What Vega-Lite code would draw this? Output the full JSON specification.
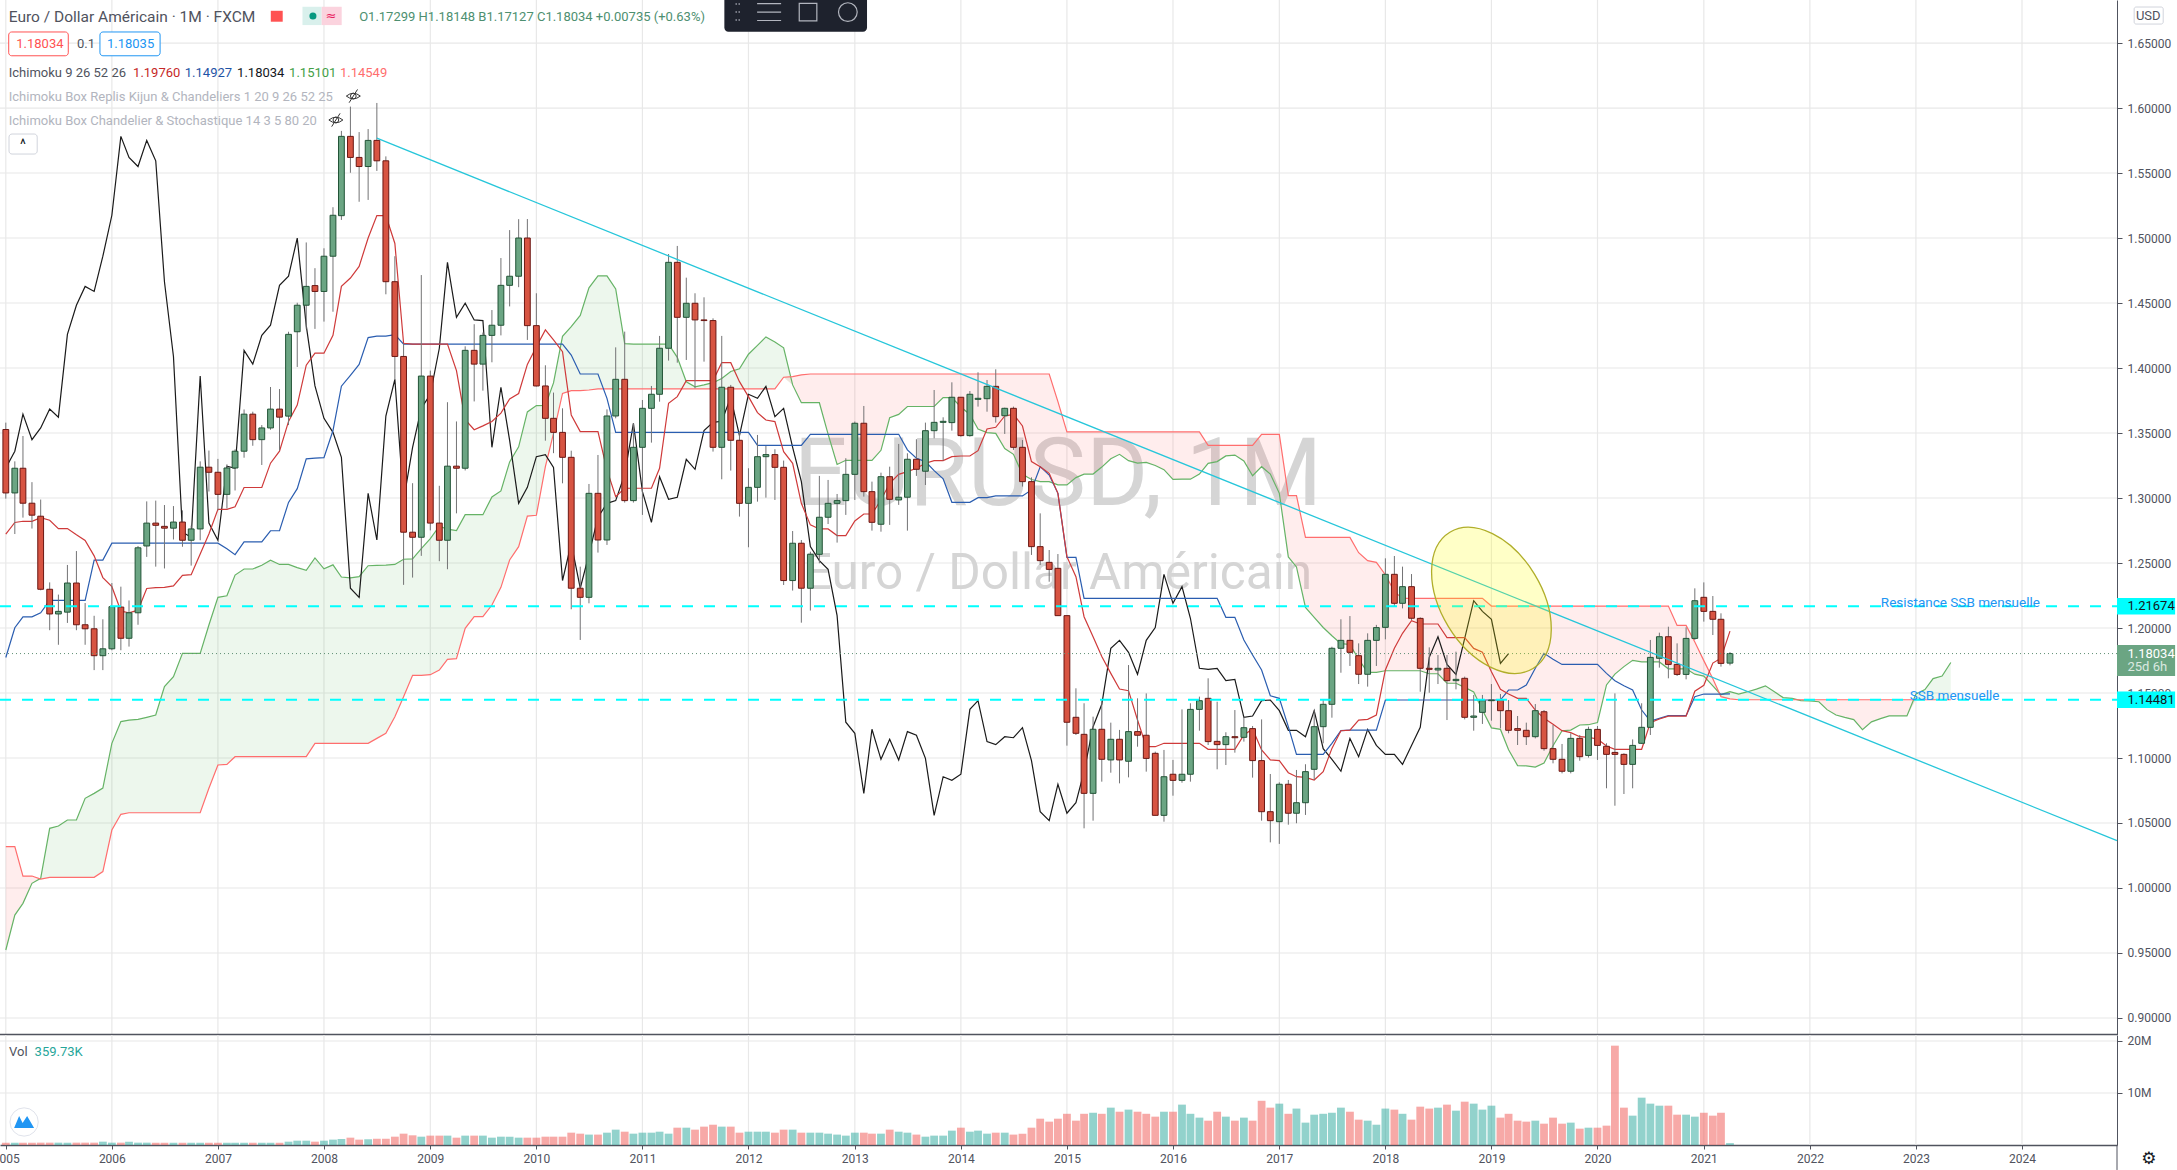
{"$schema":"https://vega.github.io/schema/vega-lite/v6.json","width":2177,"height":1170,"autosize":{"type":"none"},"padding":0,"background":"#ffffff","config":{"view":{"stroke":null},"font":"Roboto","text":{"font":"Roboto"},"axisY":{"grid":false},"axisX":{"grid":false}},
"datasets":{"rows":[
{"t":"2005-01-01","o":1.3527,"h":1.3580,"l":1.2995,"c":1.3039,"v":450000,"ten":1.2723,"kij":1.1773,"chi":1.3231,"ssa":0.9523,"ssb":1.0318,"lo":0.9523},
{"t":"2005-02-01","o":1.3039,"h":1.3282,"l":1.2723,"c":1.3229,"v":450000,"ten":1.2812,"kij":1.2002,"chi":1.3360,"ssa":0.9792,"ssb":1.0318,"lo":0.9792},
{"t":"2005-03-01","o":1.3229,"h":1.3477,"l":1.2849,"c":1.2960,"v":450000,"ten":1.2821,"kij":1.2086,"chi":1.3645,"ssa":0.9882,"ssb":1.0092,"lo":0.9882},
{"t":"2005-04-01","o":1.2960,"h":1.3122,"l":1.2765,"c":1.2868,"v":450000,"ten":1.2821,"kij":1.2086,"chi":1.3449,"ssa":1.0036,"ssb":1.0092,"lo":1.0036},
{"t":"2005-05-01","o":1.2860,"h":1.2988,"l":1.2290,"c":1.2298,"v":450000,"ten":1.2849,"kij":1.2117,"chi":1.3539,"ssa":1.0074,"ssb":1.0069,"lo":1.0069},
{"t":"2005-06-01","o":1.2298,"h":1.2351,"l":1.1983,"c":1.2108,"v":450000,"ten":1.2829,"kij":1.2212,"chi":1.3684,"ssa":1.0459,"ssb":1.0082,"lo":1.0082},
{"t":"2005-07-01","o":1.2108,"h":1.2257,"l":1.1871,"c":1.2128,"v":450000,"ten":1.2765,"kij":1.2212,"chi":1.3622,"ssa":1.0477,"ssb":1.0082,"lo":1.0082},
{"t":"2005-08-01","o":1.2122,"h":1.2485,"l":1.2039,"c":1.2346,"v":450000,"ten":1.2765,"kij":1.2212,"chi":1.4259,"ssa":1.0523,"ssb":1.0082,"lo":1.0082},
{"t":"2005-09-01","o":1.2346,"h":1.2592,"l":1.1983,"c":1.2025,"v":450000,"ten":1.2717,"kij":1.2212,"chi":1.4483,"ssa":1.0523,"ssb":1.0082,"lo":1.0082},
{"t":"2005-10-01","o":1.2025,"h":1.2192,"l":1.1871,"c":1.1994,"v":450000,"ten":1.2673,"kij":1.2212,"chi":1.4628,"ssa":1.0690,"ssb":1.0082,"lo":1.0082},
{"t":"2005-11-01","o":1.1994,"h":1.2094,"l":1.1676,"c":1.1787,"v":450000,"ten":1.2555,"kij":1.2522,"chi":1.4589,"ssa":1.0728,"ssb":1.0082,"lo":1.0082},
{"t":"2005-12-01","o":1.1787,"h":1.2067,"l":1.1676,"c":1.1840,"v":640000,"ten":1.2388,"kij":1.2522,"chi":1.4860,"ssa":1.0769,"ssb":1.0126,"lo":1.0126},
{"t":"2006-01-01","o":1.1840,"h":1.2346,"l":1.1829,"c":1.2164,"v":450000,"ten":1.2318,"kij":1.2653,"chi":1.5175,"ssa":1.1113,"ssb":1.0446,"lo":1.0446},
{"t":"2006-02-01","o":1.2161,"h":1.2318,"l":1.1829,"c":1.1921,"v":450000,"ten":1.2131,"kij":1.2653,"chi":1.5782,"ssa":1.1280,"ssb":1.0567,"lo":1.0567},
{"t":"2006-03-01","o":1.1921,"h":1.2212,"l":1.1857,"c":1.2117,"v":640000,"ten":1.2117,"kij":1.2653,"chi":1.5620,"ssa":1.1292,"ssb":1.0579,"lo":1.0579},
{"t":"2006-04-01","o":1.2117,"h":1.2631,"l":1.2025,"c":1.2617,"v":450000,"ten":1.2137,"kij":1.2653,"chi":1.5550,"ssa":1.1297,"ssb":1.0579,"lo":1.0579},
{"t":"2006-05-01","o":1.2631,"h":1.2974,"l":1.2547,"c":1.2807,"v":450000,"ten":1.2304,"kij":1.2653,"chi":1.5751,"ssa":1.1313,"ssb":1.0579,"lo":1.0579},
{"t":"2006-06-01","o":1.2807,"h":1.2980,"l":1.2472,"c":1.2790,"v":430000,"ten":1.2310,"kij":1.2653,"chi":1.5594,"ssa":1.1331,"ssb":1.0579,"lo":1.0579},
{"t":"2006-07-01","o":1.2782,"h":1.2946,"l":1.2458,"c":1.2768,"v":430000,"ten":1.2313,"kij":1.2653,"chi":1.4664,"ssa":1.1549,"ssb":1.0579,"lo":1.0579},
{"t":"2006-08-01","o":1.2768,"h":1.2938,"l":1.2681,"c":1.2815,"v":430000,"ten":1.2324,"kij":1.2653,"chi":1.4089,"ssa":1.1626,"ssb":1.0579,"lo":1.0579},
{"t":"2006-09-01","o":1.2815,"h":1.2905,"l":1.2625,"c":1.2675,"v":430000,"ten":1.2405,"kij":1.2653,"chi":1.2737,"ssa":1.1805,"ssb":1.0579,"lo":1.0579},
{"t":"2006-10-01","o":1.2675,"h":1.2787,"l":1.2480,"c":1.2762,"v":430000,"ten":1.2410,"kij":1.2653,"chi":1.2698,"ssa":1.1805,"ssb":1.0579,"lo":1.0579},
{"t":"2006-11-01","o":1.2762,"h":1.3282,"l":1.2675,"c":1.3237,"v":430000,"ten":1.2569,"kij":1.2653,"chi":1.3938,"ssa":1.1805,"ssb":1.0579,"lo":1.0579},
{"t":"2006-12-01","o":1.3237,"h":1.3365,"l":1.3050,"c":1.3198,"v":430000,"ten":1.2723,"kij":1.2653,"chi":1.2807,"ssa":1.2023,"ssb":1.0767,"lo":1.0767},
{"t":"2007-01-01","o":1.3198,"h":1.3301,"l":1.2905,"c":1.3028,"v":430000,"ten":1.2913,"kij":1.2653,"chi":1.2675,"ssa":1.2236,"ssb":1.0946,"lo":1.0946},
{"t":"2007-02-01","o":1.3028,"h":1.3259,"l":1.2919,"c":1.3231,"v":430000,"ten":1.2913,"kij":1.2609,"chi":1.3245,"ssa":1.2248,"ssb":1.0951,"lo":1.0951},
{"t":"2007-03-01","o":1.3231,"h":1.3374,"l":1.3058,"c":1.3360,"v":430000,"ten":1.2933,"kij":1.2564,"chi":1.3229,"ssa":1.2407,"ssb":1.1010,"lo":1.1010},
{"t":"2007-04-01","o":1.3360,"h":1.3681,"l":1.3310,"c":1.3645,"v":430000,"ten":1.3081,"kij":1.2662,"chi":1.4136,"ssa":1.2454,"ssb":1.1010,"lo":1.1010},
{"t":"2007-05-01","o":1.3645,"h":1.3664,"l":1.3402,"c":1.3449,"v":430000,"ten":1.3081,"kij":1.2662,"chi":1.4030,"ssa":1.2454,"ssb":1.1010,"lo":1.1010},
{"t":"2007-06-01","o":1.3449,"h":1.3561,"l":1.3254,"c":1.3539,"v":430000,"ten":1.3081,"kij":1.2662,"chi":1.4251,"ssa":1.2483,"ssb":1.1010,"lo":1.1010},
{"t":"2007-07-01","o":1.3539,"h":1.3854,"l":1.3525,"c":1.3684,"v":430000,"ten":1.3268,"kij":1.2748,"chi":1.4329,"ssa":1.2521,"ssb":1.1010,"lo":1.1010},
{"t":"2007-08-01","o":1.3684,"h":1.3838,"l":1.3365,"c":1.3622,"v":430000,"ten":1.3360,"kij":1.2748,"chi":1.4636,"ssa":1.2489,"ssb":1.1010,"lo":1.1010},
{"t":"2007-09-01","o":1.3630,"h":1.4279,"l":1.3561,"c":1.4259,"v":640000,"ten":1.3589,"kij":1.2966,"chi":1.4706,"ssa":1.2489,"ssb":1.1010,"lo":1.1010},
{"t":"2007-10-01","o":1.4279,"h":1.4502,"l":1.4008,"c":1.4483,"v":830000,"ten":1.3715,"kij":1.3072,"chi":1.5000,"ssa":1.2465,"ssb":1.1010,"lo":1.1010},
{"t":"2007-11-01","o":1.4483,"h":1.4966,"l":1.4301,"c":1.4628,"v":830000,"ten":1.4022,"kij":1.3301,"chi":1.4326,"ssa":1.2443,"ssb":1.1010,"lo":1.1010},
{"t":"2007-12-01","o":1.4634,"h":1.4768,"l":1.4301,"c":1.4589,"v":640000,"ten":1.4114,"kij":1.3307,"chi":1.3862,"ssa":1.2539,"ssb":1.1113,"lo":1.1113},
{"t":"2008-01-01","o":1.4589,"h":1.4921,"l":1.4357,"c":1.4860,"v":830000,"ten":1.4114,"kij":1.3310,"chi":1.3613,"ssa":1.2455,"ssb":1.1113,"lo":1.1113},
{"t":"2008-02-01","o":1.4860,"h":1.5237,"l":1.4433,"c":1.5175,"v":1030000,"ten":1.4251,"kij":1.3519,"chi":1.3505,"ssa":1.2486,"ssb":1.1113,"lo":1.1113},
{"t":"2008-03-01","o":1.5172,"h":1.5824,"l":1.5139,"c":1.5782,"v":1150000,"ten":1.4628,"kij":1.3860,"chi":1.3313,"ssa":1.2392,"ssb":1.1113,"lo":1.1113},
{"t":"2008-04-01","o":1.5782,"h":1.6011,"l":1.5502,"c":1.5620,"v":1410000,"ten":1.4692,"kij":1.3944,"chi":1.2306,"ssa":1.2385,"ssb":1.1113,"lo":1.1113},
{"t":"2008-05-01","o":1.5620,"h":1.5815,"l":1.5279,"c":1.5550,"v":1030000,"ten":1.4782,"kij":1.4028,"chi":1.2236,"ssa":1.2395,"ssb":1.1113,"lo":1.1113},
{"t":"2008-06-01","o":1.5550,"h":1.5838,"l":1.5293,"c":1.5751,"v":1100000,"ten":1.5000,"kij":1.4234,"chi":1.3036,"ssa":1.2479,"ssb":1.1113,"lo":1.1113},
{"t":"2008-07-01","o":1.5751,"h":1.6039,"l":1.5516,"c":1.5594,"v":1200000,"ten":1.5173,"kij":1.4245,"chi":1.2677,"ssa":1.2482,"ssb":1.1151,"lo":1.1151},
{"t":"2008-08-01","o":1.5594,"h":1.5628,"l":1.4567,"c":1.4664,"v":1200000,"ten":1.5173,"kij":1.4245,"chi":1.3631,"ssa":1.2483,"ssb":1.1190,"lo":1.1190},
{"t":"2008-09-01","o":1.4664,"h":1.4860,"l":1.3910,"c":1.4089,"v":1600000,"ten":1.4958,"kij":1.4257,"chi":1.3913,"ssa":1.2489,"ssb":1.1318,"lo":1.1318},
{"t":"2008-10-01","o":1.4089,"h":1.4190,"l":1.2332,"c":1.2737,"v":2180000,"ten":1.4190,"kij":1.4184,"chi":1.2980,"ssa":1.2529,"ssb":1.1472,"lo":1.1472},
{"t":"2008-11-01","o":1.2737,"h":1.3114,"l":1.2388,"c":1.2698,"v":1860000,"ten":1.4184,"kij":1.4184,"chi":1.3390,"ssa":1.2532,"ssb":1.1636,"lo":1.1636},
{"t":"2008-12-01","o":1.2698,"h":1.4715,"l":1.2555,"c":1.3938,"v":1600000,"ten":1.4184,"kij":1.4184,"chi":1.3690,"ssa":1.2611,"ssb":1.1636,"lo":1.1636},
{"t":"2009-01-01","o":1.3938,"h":1.3980,"l":1.2751,"c":1.2807,"v":1800000,"ten":1.4184,"kij":1.4184,"chi":1.3798,"ssa":1.2688,"ssb":1.1641,"lo":1.1641},
{"t":"2009-02-01","o":1.2807,"h":1.3094,"l":1.2514,"c":1.2675,"v":1800000,"ten":1.4184,"kij":1.4184,"chi":1.4152,"ssa":1.2783,"ssb":1.1677,"lo":1.1677},
{"t":"2009-03-01","o":1.2675,"h":1.3737,"l":1.2452,"c":1.3245,"v":1800000,"ten":1.4184,"kij":1.4184,"chi":1.4813,"ssa":1.2761,"ssb":1.1759,"lo":1.1759},
{"t":"2009-04-01","o":1.3245,"h":1.3589,"l":1.2882,"c":1.3229,"v":1410000,"ten":1.3980,"kij":1.4184,"chi":1.4390,"ssa":1.2749,"ssb":1.1764,"lo":1.1764},
{"t":"2009-05-01","o":1.3229,"h":1.4167,"l":1.3212,"c":1.4136,"v":1800000,"ten":1.3603,"kij":1.4184,"chi":1.4498,"ssa":1.2872,"ssb":1.1997,"lo":1.1997},
{"t":"2009-06-01","o":1.4136,"h":1.4337,"l":1.3743,"c":1.4030,"v":1800000,"ten":1.3525,"kij":1.4184,"chi":1.4370,"ssa":1.2872,"ssb":1.2087,"lo":1.2087},
{"t":"2009-07-01","o":1.4030,"h":1.4273,"l":1.3826,"c":1.4251,"v":1800000,"ten":1.3555,"kij":1.4184,"chi":1.4365,"ssa":1.2872,"ssb":1.2087,"lo":1.2087},
{"t":"2009-08-01","o":1.4251,"h":1.4446,"l":1.4044,"c":1.4329,"v":1410000,"ten":1.3589,"kij":1.4184,"chi":1.3390,"ssa":1.3008,"ssb":1.2177,"lo":1.2177},
{"t":"2009-09-01","o":1.4329,"h":1.4846,"l":1.4251,"c":1.4636,"v":1600000,"ten":1.3653,"kij":1.4184,"chi":1.3852,"ssa":1.3054,"ssb":1.2313,"lo":1.2313},
{"t":"2009-10-01","o":1.4636,"h":1.5061,"l":1.4474,"c":1.4706,"v":1600000,"ten":1.3762,"kij":1.4184,"chi":1.3444,"ssa":1.3278,"ssb":1.2523,"lo":1.2523},
{"t":"2009-11-01","o":1.4706,"h":1.5145,"l":1.4622,"c":1.5000,"v":1410000,"ten":1.3804,"kij":1.4184,"chi":1.2959,"ssa":1.3394,"ssb":1.2626,"lo":1.2626},
{"t":"2009-12-01","o":1.5000,"h":1.5146,"l":1.4216,"c":1.4326,"v":1410000,"ten":1.4028,"kij":1.4184,"chi":1.3082,"ssa":1.3662,"ssb":1.2861,"lo":1.2861},
{"t":"2010-01-01","o":1.4326,"h":1.4575,"l":1.3858,"c":1.3862,"v":1410000,"ten":1.4164,"kij":1.4184,"chi":1.3318,"ssa":1.3711,"ssb":1.2867,"lo":1.2867},
{"t":"2010-02-01","o":1.3862,"h":1.4021,"l":1.3441,"c":1.3613,"v":1600000,"ten":1.4293,"kij":1.4184,"chi":1.3334,"ssa":1.3712,"ssb":1.3241,"lo":1.3241},
{"t":"2010-03-01","o":1.3613,"h":1.3811,"l":1.3345,"c":1.3505,"v":1600000,"ten":1.4216,"kij":1.4184,"chi":1.3236,"ssa":1.3885,"ssb":1.3497,"lo":1.3497},
{"t":"2010-04-01","o":1.3505,"h":1.3690,"l":1.3113,"c":1.3313,"v":1600000,"ten":1.4126,"kij":1.4184,"chi":1.2365,"ssa":1.4244,"ssb":1.3805,"lo":1.3805},
{"t":"2010-05-01","o":1.3313,"h":1.3364,"l":1.2144,"c":1.2306,"v":2370000,"ten":1.3639,"kij":1.4100,"chi":1.2652,"ssa":1.4318,"ssb":1.3826,"lo":1.3826},
{"t":"2010-06-01","o":1.2306,"h":1.2472,"l":1.1908,"c":1.2236,"v":2180000,"ten":1.3511,"kij":1.3954,"chi":1.2306,"ssa":1.4405,"ssb":1.3826,"lo":1.3826},
{"t":"2010-07-01","o":1.2236,"h":1.3108,"l":1.2190,"c":1.3036,"v":2000000,"ten":1.3511,"kij":1.3954,"chi":1.2567,"ssa":1.4617,"ssb":1.3831,"lo":1.3831},
{"t":"2010-08-01","o":1.3036,"h":1.3331,"l":1.2580,"c":1.2677,"v":2000000,"ten":1.3511,"kij":1.3954,"chi":1.2852,"ssa":1.4709,"ssb":1.3840,"lo":1.3840},
{"t":"2010-09-01","o":1.2677,"h":1.3682,"l":1.2639,"c":1.3631,"v":2370000,"ten":1.3216,"kij":1.3767,"chi":1.2959,"ssa":1.4709,"ssb":1.3840,"lo":1.3840},
{"t":"2010-10-01","o":1.3631,"h":1.4159,"l":1.3613,"c":1.3913,"v":2950000,"ten":1.3011,"kij":1.3505,"chi":1.2980,"ssa":1.4608,"ssb":1.3840,"lo":1.3840},
{"t":"2010-11-01","o":1.3913,"h":1.4280,"l":1.2965,"c":1.2980,"v":2560000,"ten":1.3075,"kij":1.3505,"chi":1.3182,"ssa":1.4187,"ssb":1.3840,"lo":1.3840},
{"t":"2010-12-01","o":1.2980,"h":1.3575,"l":1.2965,"c":1.3390,"v":2180000,"ten":1.3075,"kij":1.3505,"chi":1.3575,"ssa":1.4184,"ssb":1.3840,"lo":1.3840},
{"t":"2011-01-01","o":1.3390,"h":1.3754,"l":1.2870,"c":1.3690,"v":2370000,"ten":1.3075,"kij":1.3505,"chi":1.3049,"ssa":1.4184,"ssb":1.3840,"lo":1.3840},
{"t":"2011-02-01","o":1.3690,"h":1.3862,"l":1.3426,"c":1.3798,"v":2370000,"ten":1.3075,"kij":1.3505,"chi":1.2813,"ssa":1.4184,"ssb":1.3840,"lo":1.3840},
{"t":"2011-03-01","o":1.3798,"h":1.4247,"l":1.3741,"c":1.4152,"v":2560000,"ten":1.3229,"kij":1.3505,"chi":1.3164,"ssa":1.4184,"ssb":1.3840,"lo":1.3840},
{"t":"2011-04-01","o":1.4152,"h":1.4877,"l":1.4057,"c":1.4813,"v":2180000,"ten":1.3729,"kij":1.3505,"chi":1.2990,"ssa":1.4184,"ssb":1.3840,"lo":1.3840},
{"t":"2011-05-01","o":1.4813,"h":1.4939,"l":1.4041,"c":1.4390,"v":3330000,"ten":1.3780,"kij":1.3505,"chi":1.3006,"ssa":1.4082,"ssb":1.3840,"lo":1.3840},
{"t":"2011-06-01","o":1.4390,"h":1.4695,"l":1.4062,"c":1.4498,"v":3330000,"ten":1.3903,"kij":1.3505,"chi":1.3298,"ssa":1.3894,"ssb":1.3840,"lo":1.3840},
{"t":"2011-07-01","o":1.4498,"h":1.4575,"l":1.3844,"c":1.4370,"v":2950000,"ten":1.3903,"kij":1.3505,"chi":1.3221,"ssa":1.3855,"ssb":1.3840,"lo":1.3840},
{"t":"2011-08-01","o":1.4370,"h":1.4544,"l":1.4049,"c":1.4365,"v":3530000,"ten":1.3903,"kij":1.3505,"chi":1.3518,"ssa":1.3870,"ssb":1.3840,"lo":1.3840},
{"t":"2011-09-01","o":1.4365,"h":1.4382,"l":1.3357,"c":1.3390,"v":3900000,"ten":1.3903,"kij":1.3505,"chi":1.3582,"ssa":1.3887,"ssb":1.3840,"lo":1.3840},
{"t":"2011-10-01","o":1.3390,"h":1.4247,"l":1.3144,"c":1.3852,"v":3530000,"ten":1.4041,"kij":1.3505,"chi":1.3590,"ssa":1.3919,"ssb":1.3840,"lo":1.3840},
{"t":"2011-11-01","o":1.3852,"h":1.3870,"l":1.3211,"c":1.3444,"v":3530000,"ten":1.4041,"kij":1.3505,"chi":1.3775,"ssa":1.3973,"ssb":1.3840,"lo":1.3840},
{"t":"2011-12-01","o":1.3444,"h":1.3511,"l":1.2857,"c":1.2959,"v":2370000,"ten":1.3895,"kij":1.3505,"chi":1.3480,"ssa":1.3994,"ssb":1.3840,"lo":1.3840},
{"t":"2012-01-01","o":1.2959,"h":1.3229,"l":1.2621,"c":1.3082,"v":2560000,"ten":1.3780,"kij":1.3505,"chi":1.3798,"ssa":1.4106,"ssb":1.3840,"lo":1.3840},
{"t":"2012-02-01","o":1.3082,"h":1.3485,"l":1.2972,"c":1.3318,"v":2560000,"ten":1.3657,"kij":1.3405,"chi":1.3767,"ssa":1.4174,"ssb":1.3840,"lo":1.3840},
{"t":"2012-03-01","o":1.3318,"h":1.3400,"l":1.3003,"c":1.3334,"v":2560000,"ten":1.3600,"kij":1.3405,"chi":1.3859,"ssa":1.4239,"ssb":1.3840,"lo":1.3840},
{"t":"2012-04-01","o":1.3334,"h":1.3375,"l":1.2985,"c":1.3236,"v":2370000,"ten":1.3588,"kij":1.3405,"chi":1.3626,"ssa":1.4200,"ssb":1.3840,"lo":1.3840},
{"t":"2012-05-01","o":1.3236,"h":1.3288,"l":1.2331,"c":1.2365,"v":2950000,"ten":1.3357,"kij":1.3405,"chi":1.3690,"ssa":1.4155,"ssb":1.3929,"lo":1.3929},
{"t":"2012-06-01","o":1.2365,"h":1.2746,"l":1.2288,"c":1.2652,"v":2950000,"ten":1.3267,"kij":1.3405,"chi":1.3390,"ssa":1.3870,"ssb":1.3934,"lo":1.3870},
{"t":"2012-07-01","o":1.2652,"h":1.2677,"l":1.2041,"c":1.2306,"v":2370000,"ten":1.2959,"kij":1.3405,"chi":1.3126,"ssa":1.3733,"ssb":1.3947,"lo":1.3733},
{"t":"2012-08-01","o":1.2306,"h":1.2587,"l":1.2134,"c":1.2567,"v":2370000,"ten":1.2793,"kij":1.3490,"chi":1.2626,"ssa":1.3733,"ssb":1.3954,"lo":1.3733},
{"t":"2012-09-01","o":1.2567,"h":1.3170,"l":1.2498,"c":1.2852,"v":2370000,"ten":1.2762,"kij":1.3490,"chi":1.2518,"ssa":1.3733,"ssb":1.3954,"lo":1.3733},
{"t":"2012-10-01","o":1.2852,"h":1.3139,"l":1.2800,"c":1.2959,"v":2180000,"ten":1.2762,"kij":1.3490,"chi":1.2451,"ssa":1.3492,"ssb":1.3954,"lo":1.3492},
{"t":"2012-11-01","o":1.2959,"h":1.3031,"l":1.2657,"c":1.2980,"v":2000000,"ten":1.2711,"kij":1.3490,"chi":1.2095,"ssa":1.3258,"ssb":1.3954,"lo":1.3258},
{"t":"2012-12-01","o":1.2980,"h":1.3306,"l":1.2870,"c":1.3182,"v":1800000,"ten":1.2711,"kij":1.3490,"chi":1.1275,"ssa":1.3290,"ssb":1.3954,"lo":1.3290},
{"t":"2013-01-01","o":1.3182,"h":1.3588,"l":1.2985,"c":1.3575,"v":2370000,"ten":1.2823,"kij":1.3490,"chi":1.1190,"ssa":1.3290,"ssb":1.3954,"lo":1.3290},
{"t":"2013-02-01","o":1.3575,"h":1.3708,"l":1.3011,"c":1.3049,"v":2370000,"ten":1.2877,"kij":1.3490,"chi":1.0728,"ssa":1.3290,"ssb":1.3954,"lo":1.3290},
{"t":"2013-03-01","o":1.3049,"h":1.3126,"l":1.2749,"c":1.2813,"v":2180000,"ten":1.2877,"kij":1.3490,"chi":1.1221,"ssa":1.3290,"ssb":1.3954,"lo":1.3290},
{"t":"2013-04-01","o":1.2798,"h":1.3195,"l":1.2741,"c":1.3164,"v":2180000,"ten":1.2985,"kij":1.3490,"chi":1.0990,"ssa":1.3367,"ssb":1.3954,"lo":1.3367},
{"t":"2013-05-01","o":1.3164,"h":1.3241,"l":1.2793,"c":1.2990,"v":2950000,"ten":1.3113,"kij":1.3490,"chi":1.1144,"ssa":1.3617,"ssb":1.3954,"lo":1.3617},
{"t":"2013-06-01","o":1.2985,"h":1.3416,"l":1.2947,"c":1.3006,"v":2560000,"ten":1.3182,"kij":1.3490,"chi":1.0985,"ssa":1.3643,"ssb":1.3954,"lo":1.3643},
{"t":"2013-07-01","o":1.3006,"h":1.3344,"l":1.2749,"c":1.3298,"v":2370000,"ten":1.3203,"kij":1.3370,"chi":1.1203,"ssa":1.3704,"ssb":1.3954,"lo":1.3704},
{"t":"2013-08-01","o":1.3298,"h":1.3452,"l":1.3170,"c":1.3221,"v":2000000,"ten":1.3229,"kij":1.3306,"chi":1.1175,"ssa":1.3704,"ssb":1.3954,"lo":1.3704},
{"t":"2013-09-01","o":1.3206,"h":1.3580,"l":1.3100,"c":1.3518,"v":1600000,"ten":1.3267,"kij":1.3280,"chi":1.0997,"ssa":1.3704,"ssb":1.3954,"lo":1.3704},
{"t":"2013-10-01","o":1.3518,"h":1.3831,"l":1.3459,"c":1.3582,"v":1800000,"ten":1.3288,"kij":1.3211,"chi":1.0559,"ssa":1.3704,"ssb":1.3954,"lo":1.3704},
{"t":"2013-11-01","o":1.3582,"h":1.3621,"l":1.3288,"c":1.3590,"v":1800000,"ten":1.3288,"kij":1.3147,"chi":1.0856,"ssa":1.3773,"ssb":1.3954,"lo":1.3773},
{"t":"2013-12-01","o":1.3580,"h":1.3890,"l":1.3518,"c":1.3775,"v":2760000,"ten":1.3318,"kij":1.2967,"chi":1.0828,"ssa":1.3773,"ssb":1.3954,"lo":1.3773},
{"t":"2014-01-01","o":1.3775,"h":1.3775,"l":1.3472,"c":1.3480,"v":3330000,"ten":1.3323,"kij":1.2967,"chi":1.0875,"ssa":1.3700,"ssb":1.3954,"lo":1.3700},
{"t":"2014-02-01","o":1.3480,"h":1.3823,"l":1.3472,"c":1.3798,"v":2560000,"ten":1.3323,"kij":1.2967,"chi":1.1374,"ssa":1.3643,"ssb":1.3954,"lo":1.3643},
{"t":"2014-03-01","o":1.3759,"h":1.3967,"l":1.3703,"c":1.3767,"v":2760000,"ten":1.3364,"kij":1.3003,"chi":1.1441,"ssa":1.3531,"ssb":1.3954,"lo":1.3531},
{"t":"2014-04-01","o":1.3764,"h":1.3908,"l":1.3664,"c":1.3859,"v":2180000,"ten":1.3531,"kij":1.3003,"chi":1.1126,"ssa":1.3503,"ssb":1.3954,"lo":1.3503},
{"t":"2014-05-01","o":1.3859,"h":1.3990,"l":1.3580,"c":1.3626,"v":2370000,"ten":1.3544,"kij":1.3016,"chi":1.1103,"ssa":1.3497,"ssb":1.3954,"lo":1.3497},
{"t":"2014-06-01","o":1.3633,"h":1.3695,"l":1.3493,"c":1.3690,"v":2370000,"ten":1.3631,"kij":1.3016,"chi":1.1164,"ssa":1.3381,"ssb":1.3954,"lo":1.3381},
{"t":"2014-07-01","o":1.3690,"h":1.3703,"l":1.3370,"c":1.3390,"v":2000000,"ten":1.3644,"kij":1.3016,"chi":1.1156,"ssa":1.3336,"ssb":1.3954,"lo":1.3336},
{"t":"2014-08-01","o":1.3390,"h":1.3446,"l":1.3088,"c":1.3126,"v":2180000,"ten":1.3554,"kij":1.3016,"chi":1.1233,"ssa":1.3182,"ssb":1.3954,"lo":1.3182},
{"t":"2014-09-01","o":1.3126,"h":1.3159,"l":1.2562,"c":1.2626,"v":3330000,"ten":1.3280,"kij":1.3062,"chi":1.0980,"ssa":1.3142,"ssb":1.3954,"lo":1.3142},
{"t":"2014-10-01","o":1.2626,"h":1.2882,"l":1.2485,"c":1.2518,"v":5060000,"ten":1.3241,"kij":1.3241,"chi":1.0587,"ssa":1.3126,"ssb":1.3954,"lo":1.3126},
{"t":"2014-11-01","o":1.2505,"h":1.2600,"l":1.2356,"c":1.2451,"v":4490000,"ten":1.3190,"kij":1.3177,"chi":1.0518,"ssa":1.3126,"ssb":1.3954,"lo":1.3126},
{"t":"2014-12-01","o":1.2459,"h":1.2569,"l":1.2095,"c":1.2095,"v":5060000,"ten":1.3036,"kij":1.3036,"chi":1.0798,"ssa":1.3101,"ssb":1.3741,"lo":1.3101},
{"t":"2015-01-01","o":1.2095,"h":1.2095,"l":1.1095,"c":1.1275,"v":6000000,"ten":1.2549,"kij":1.2544,"chi":1.0575,"ssa":1.3101,"ssb":1.3508,"lo":1.3101},
{"t":"2015-02-01","o":1.1313,"h":1.1536,"l":1.1177,"c":1.1190,"v":4680000,"ten":1.2395,"kij":1.2544,"chi":1.0656,"ssa":1.3157,"ssb":1.3508,"lo":1.3157},
{"t":"2015-03-01","o":1.1182,"h":1.1421,"l":1.0459,"c":1.0728,"v":6000000,"ten":1.2087,"kij":1.2228,"chi":1.0895,"ssa":1.3184,"ssb":1.3508,"lo":1.3184},
{"t":"2015-04-01","o":1.0728,"h":1.1318,"l":1.0518,"c":1.1221,"v":6200000,"ten":1.1933,"kij":1.2228,"chi":1.1241,"ssa":1.3184,"ssb":1.3508,"lo":1.3184},
{"t":"2015-05-01","o":1.1221,"h":1.1441,"l":1.0818,"c":1.0990,"v":6000000,"ten":1.1780,"kij":1.2228,"chi":1.1413,"ssa":1.3238,"ssb":1.3508,"lo":1.3238},
{"t":"2015-06-01","o":1.0985,"h":1.1272,"l":1.0887,"c":1.1144,"v":7180000,"ten":1.1651,"kij":1.2228,"chi":1.1844,"ssa":1.3302,"ssb":1.3508,"lo":1.3302},
{"t":"2015-07-01","o":1.1144,"h":1.1216,"l":1.0805,"c":1.0985,"v":6400000,"ten":1.1531,"kij":1.2228,"chi":1.1905,"ssa":1.3336,"ssb":1.3508,"lo":1.3336},
{"t":"2015-08-01","o":1.0975,"h":1.1715,"l":1.0851,"c":1.1203,"v":6800000,"ten":1.1518,"kij":1.2228,"chi":1.1813,"ssa":1.3287,"ssb":1.3508,"lo":1.3287},
{"t":"2015-09-01","o":1.1203,"h":1.1459,"l":1.1087,"c":1.1175,"v":6400000,"ten":1.1292,"kij":1.2228,"chi":1.1644,"ssa":1.3268,"ssb":1.3508,"lo":1.3268},
{"t":"2015-10-01","o":1.1175,"h":1.1497,"l":1.0895,"c":1.0997,"v":6000000,"ten":1.1087,"kij":1.2228,"chi":1.1905,"ssa":1.3274,"ssb":1.3508,"lo":1.3274},
{"t":"2015-11-01","o":1.1036,"h":1.1049,"l":1.0559,"c":1.0559,"v":5450000,"ten":1.1087,"kij":1.2228,"chi":1.2003,"ssa":1.3250,"ssb":1.3508,"lo":1.3250},
{"t":"2015-12-01","o":1.0559,"h":1.1062,"l":1.0510,"c":1.0856,"v":6400000,"ten":1.1113,"kij":1.2228,"chi":1.2413,"ssa":1.3218,"ssb":1.3508,"lo":1.3218},
{"t":"2016-01-01","o":1.0875,"h":1.0985,"l":1.0710,"c":1.0828,"v":6400000,"ten":1.1113,"kij":1.2228,"chi":1.2190,"ssa":1.3143,"ssb":1.3508,"lo":1.3143},
{"t":"2016-02-01","o":1.0828,"h":1.1374,"l":1.0810,"c":1.0875,"v":7760000,"ten":1.1113,"kij":1.2228,"chi":1.2318,"ssa":1.3145,"ssb":1.3508,"lo":1.3145},
{"t":"2016-03-01","o":1.0875,"h":1.1421,"l":1.0818,"c":1.1374,"v":6000000,"ten":1.1113,"kij":1.2228,"chi":1.2075,"ssa":1.3145,"ssb":1.3508,"lo":1.3145},
{"t":"2016-04-01","o":1.1374,"h":1.1472,"l":1.1210,"c":1.1441,"v":5260000,"ten":1.1113,"kij":1.2228,"chi":1.1690,"ssa":1.3184,"ssb":1.3508,"lo":1.3184},
{"t":"2016-05-01","o":1.1459,"h":1.1613,"l":1.1100,"c":1.1126,"v":4680000,"ten":1.1067,"kij":1.2228,"chi":1.1682,"ssa":1.3267,"ssb":1.3405,"lo":1.3267},
{"t":"2016-06-01","o":1.1128,"h":1.1433,"l":1.0913,"c":1.1103,"v":6400000,"ten":1.1067,"kij":1.2228,"chi":1.1690,"ssa":1.3280,"ssb":1.3405,"lo":1.3280},
{"t":"2016-07-01","o":1.1103,"h":1.1198,"l":1.0946,"c":1.1164,"v":5450000,"ten":1.1067,"kij":1.2082,"chi":1.1595,"ssa":1.3324,"ssb":1.3405,"lo":1.3324},
{"t":"2016-08-01","o":1.1164,"h":1.1369,"l":1.1041,"c":1.1156,"v":4680000,"ten":1.1067,"kij":1.2082,"chi":1.1605,"ssa":1.3330,"ssb":1.3405,"lo":1.3330},
{"t":"2016-09-01","o":1.1159,"h":1.1318,"l":1.1126,"c":1.1233,"v":5260000,"ten":1.1177,"kij":1.1908,"chi":1.1313,"ssa":1.3285,"ssb":1.3405,"lo":1.3285},
{"t":"2016-10-01","o":1.1226,"h":1.1246,"l":1.0849,"c":1.0980,"v":4680000,"ten":1.1223,"kij":1.1792,"chi":1.1323,"ssa":1.3171,"ssb":1.3405,"lo":1.3171},
{"t":"2016-11-01","o":1.0980,"h":1.1297,"l":1.0518,"c":1.0587,"v":8500000,"ten":1.1062,"kij":1.1677,"chi":1.1441,"ssa":1.3241,"ssb":1.3490,"lo":1.3241},
{"t":"2016-12-01","o":1.0587,"h":1.0877,"l":1.0351,"c":1.0518,"v":7180000,"ten":1.0985,"kij":1.1479,"chi":1.1446,"ssa":1.3184,"ssb":1.3490,"lo":1.3184},
{"t":"2017-01-01","o":1.0510,"h":1.0813,"l":1.0339,"c":1.0798,"v":7950000,"ten":1.0980,"kij":1.1459,"chi":1.1364,"ssa":1.3036,"ssb":1.3490,"lo":1.3036},
{"t":"2017-02-01","o":1.0798,"h":1.0831,"l":1.0487,"c":1.0575,"v":6000000,"ten":1.0887,"kij":1.1241,"chi":1.1213,"ssa":1.2547,"ssb":1.3018,"lo":1.2547},
{"t":"2017-03-01","o":1.0575,"h":1.0908,"l":1.0498,"c":1.0656,"v":7000000,"ten":1.0856,"kij":1.1028,"chi":1.1213,"ssa":1.2470,"ssb":1.3018,"lo":1.2470},
{"t":"2017-04-01","o":1.0656,"h":1.0952,"l":1.0562,"c":1.0895,"v":4300000,"ten":1.0851,"kij":1.1028,"chi":1.1164,"ssa":1.2158,"ssb":1.2697,"lo":1.2158},
{"t":"2017-05-01","o":1.0913,"h":1.1364,"l":1.0831,"c":1.1241,"v":5830000,"ten":1.0831,"kij":1.1028,"chi":1.1364,"ssa":1.2081,"ssb":1.2697,"lo":1.2081},
{"t":"2017-06-01","o":1.1241,"h":1.1446,"l":1.1113,"c":1.1413,"v":6000000,"ten":1.0895,"kij":1.1028,"chi":1.1072,"ssa":1.2004,"ssb":1.2697,"lo":1.2004},
{"t":"2017-07-01","o":1.1413,"h":1.1856,"l":1.1310,"c":1.1844,"v":6200000,"ten":1.1074,"kij":1.1113,"chi":1.0990,"ssa":1.1940,"ssb":1.2697,"lo":1.1940},
{"t":"2017-08-01","o":1.1844,"h":1.2067,"l":1.1656,"c":1.1905,"v":7180000,"ten":1.1210,"kij":1.1210,"chi":1.0898,"ssa":1.1880,"ssb":1.2697,"lo":1.1880},
{"t":"2017-09-01","o":1.1905,"h":1.2092,"l":1.1708,"c":1.1813,"v":6400000,"ten":1.1215,"kij":1.1215,"chi":1.1151,"ssa":1.1873,"ssb":1.2697,"lo":1.1873},
{"t":"2017-10-01","o":1.1787,"h":1.1882,"l":1.1569,"c":1.1644,"v":4870000,"ten":1.1292,"kij":1.1215,"chi":1.1010,"ssa":1.1760,"ssb":1.2579,"lo":1.1760},
{"t":"2017-11-01","o":1.1644,"h":1.1959,"l":1.1549,"c":1.1905,"v":4680000,"ten":1.1297,"kij":1.1215,"chi":1.1220,"ssa":1.1658,"ssb":1.2518,"lo":1.1658},
{"t":"2017-12-01","o":1.1905,"h":1.2024,"l":1.1708,"c":1.2003,"v":3900000,"ten":1.1331,"kij":1.1215,"chi":1.1097,"ssa":1.1658,"ssb":1.2505,"lo":1.1658},
{"t":"2018-01-01","o":1.2005,"h":1.2536,"l":1.1913,"c":1.2413,"v":7000000,"ten":1.1677,"kij":1.1446,"chi":1.1028,"ssa":1.1671,"ssb":1.2410,"lo":1.1671},
{"t":"2018-02-01","o":1.2413,"h":1.2554,"l":1.2164,"c":1.2190,"v":6800000,"ten":1.1844,"kij":1.1446,"chi":1.1028,"ssa":1.1671,"ssb":1.2280,"lo":1.1671},
{"t":"2018-03-01","o":1.2190,"h":1.2472,"l":1.2151,"c":1.2318,"v":6000000,"ten":1.1959,"kij":1.1446,"chi":1.0951,"ssa":1.1671,"ssb":1.2228,"lo":1.1671},
{"t":"2018-04-01","o":1.2318,"h":1.2415,"l":1.2062,"c":1.2075,"v":4870000,"ten":1.2056,"kij":1.1446,"chi":1.1097,"ssa":1.1671,"ssb":1.2228,"lo":1.1671},
{"t":"2018-05-01","o":1.2074,"h":1.2082,"l":1.1510,"c":1.1690,"v":7370000,"ten":1.2031,"kij":1.1446,"chi":1.1236,"ssa":1.1671,"ssb":1.2228,"lo":1.1671},
{"t":"2018-06-01","o":1.1690,"h":1.1851,"l":1.1502,"c":1.1682,"v":7000000,"ten":1.2031,"kij":1.1446,"chi":1.1774,"ssa":1.1648,"ssb":1.2228,"lo":1.1648},
{"t":"2018-07-01","o":1.1677,"h":1.1792,"l":1.1569,"c":1.1690,"v":7180000,"ten":1.2031,"kij":1.1446,"chi":1.1933,"ssa":1.1648,"ssb":1.2228,"lo":1.1648},
{"t":"2018-08-01","o":1.1690,"h":1.1792,"l":1.1292,"c":1.1595,"v":7760000,"ten":1.1926,"kij":1.1446,"chi":1.1720,"ssa":1.1575,"ssb":1.2228,"lo":1.1575},
{"t":"2018-09-01","o":1.1595,"h":1.1818,"l":1.1528,"c":1.1605,"v":6600000,"ten":1.1926,"kij":1.1446,"chi":1.1643,"ssa":1.1575,"ssb":1.2228,"lo":1.1575},
{"t":"2018-10-01","o":1.1613,"h":1.1626,"l":1.1297,"c":1.1313,"v":8330000,"ten":1.1926,"kij":1.1446,"chi":1.1920,"ssa":1.1543,"ssb":1.2228,"lo":1.1543},
{"t":"2018-11-01","o":1.1313,"h":1.1485,"l":1.1210,"c":1.1323,"v":7950000,"ten":1.1843,"kij":1.1446,"chi":1.2210,"ssa":1.1508,"ssb":1.2228,"lo":1.1508},
{"t":"2018-12-01","o":1.1351,"h":1.1485,"l":1.1262,"c":1.1441,"v":6800000,"ten":1.1813,"kij":1.1446,"chi":1.2128,"ssa":1.1370,"ssb":1.2228,"lo":1.1370},
{"t":"2019-01-01","o":1.1441,"h":1.1569,"l":1.1287,"c":1.1446,"v":7560000,"ten":1.1664,"kij":1.1446,"chi":1.2067,"ssa":1.1232,"ssb":1.2169,"lo":1.1232},
{"t":"2019-02-01","o":1.1446,"h":1.1492,"l":1.1228,"c":1.1364,"v":5260000,"ten":1.1528,"kij":1.1446,"chi":1.1728,"ssa":1.1220,"ssb":1.2169,"lo":1.1220},
{"t":"2019-03-01","o":1.1364,"h":1.1446,"l":1.1190,"c":1.1213,"v":6000000,"ten":1.1492,"kij":1.1523,"chi":1.1803,"ssa":1.1064,"ssb":1.2169,"lo":1.1064},
{"t":"2019-04-01","o":1.1226,"h":1.1323,"l":1.1100,"c":1.1213,"v":4680000,"ten":1.1459,"kij":1.1523,"ssa":1.0942,"ssb":1.2169,"lo":1.0942},
{"t":"2019-05-01","o":1.1213,"h":1.1272,"l":1.1100,"c":1.1164,"v":4490000,"ten":1.1459,"kij":1.1561,"ssa":1.0940,"ssb":1.2169,"lo":1.0940},
{"t":"2019-06-01","o":1.1164,"h":1.1415,"l":1.1151,"c":1.1364,"v":4680000,"ten":1.1369,"kij":1.1690,"ssa":1.0930,"ssb":1.2169,"lo":1.0930},
{"t":"2019-07-01","o":1.1356,"h":1.1369,"l":1.1056,"c":1.1072,"v":4100000,"ten":1.1305,"kij":1.1805,"ssa":1.0962,"ssb":1.2169,"lo":1.0962},
{"t":"2019-08-01","o":1.1072,"h":1.1254,"l":1.0959,"c":1.0990,"v":5260000,"ten":1.1259,"kij":1.1759,"ssa":1.1094,"ssb":1.2169,"lo":1.1094},
{"t":"2019-09-01","o":1.0990,"h":1.1108,"l":1.0882,"c":1.0898,"v":4100000,"ten":1.1210,"kij":1.1720,"ssa":1.1210,"ssb":1.2169,"lo":1.1210},
{"t":"2019-10-01","o":1.0898,"h":1.1190,"l":1.0882,"c":1.1151,"v":4300000,"ten":1.1195,"kij":1.1720,"ssa":1.1215,"ssb":1.2169,"lo":1.1215},
{"t":"2019-11-01","o":1.1151,"h":1.1177,"l":1.0979,"c":1.1010,"v":3140000,"ten":1.1164,"kij":1.1720,"ssa":1.1254,"ssb":1.2169,"lo":1.1254},
{"t":"2019-12-01","o":1.1020,"h":1.1241,"l":1.1003,"c":1.1220,"v":3330000,"ten":1.1159,"kij":1.1720,"ssa":1.1256,"ssb":1.2169,"lo":1.1256},
{"t":"2020-01-01","o":1.1220,"h":1.1246,"l":1.0985,"c":1.1097,"v":3330000,"ten":1.1146,"kij":1.1720,"ssa":1.1273,"ssb":1.2169,"lo":1.1273},
{"t":"2020-02-01","o":1.1090,"h":1.1113,"l":1.0767,"c":1.1028,"v":3720000,"ten":1.1092,"kij":1.1651,"ssa":1.1562,"ssb":1.2169,"lo":1.1562},
{"t":"2020-03-01","o":1.1043,"h":1.1497,"l":1.0633,"c":1.1028,"v":19100000,"ten":1.1067,"kij":1.1595,"ssa":1.1645,"ssb":1.2169,"lo":1.1645},
{"t":"2020-04-01","o":1.1028,"h":1.1036,"l":1.0723,"c":1.0951,"v":7180000,"ten":1.1067,"kij":1.1556,"ssa":1.1703,"ssb":1.2169,"lo":1.1703},
{"t":"2020-05-01","o":1.0951,"h":1.1143,"l":1.0767,"c":1.1097,"v":5640000,"ten":1.1067,"kij":1.1523,"ssa":1.1751,"ssb":1.2169,"lo":1.1751},
{"t":"2020-06-01","o":1.1113,"h":1.1421,"l":1.1108,"c":1.1236,"v":9100000,"ten":1.1067,"kij":1.1369,"ssa":1.1739,"ssb":1.2169,"lo":1.1739},
{"t":"2020-07-01","o":1.1236,"h":1.1908,"l":1.1177,"c":1.1774,"v":7950000,"ten":1.1272,"kij":1.1284,"ssa":1.1739,"ssb":1.2169,"lo":1.1739},
{"t":"2020-08-01","o":1.1767,"h":1.1964,"l":1.1695,"c":1.1933,"v":7560000,"ten":1.1300,"kij":1.1305,"ssa":1.1739,"ssb":1.2169,"lo":1.1739},
{"t":"2020-09-01","o":1.1933,"h":1.2010,"l":1.1613,"c":1.1720,"v":7560000,"ten":1.1322,"kij":1.1326,"ssa":1.1686,"ssb":1.2169,"lo":1.1686},
{"t":"2020-10-01","o":1.1720,"h":1.1882,"l":1.1631,"c":1.1643,"v":5830000,"ten":1.1322,"kij":1.1326,"ssa":1.1686,"ssb":1.2020,"lo":1.1686},
{"t":"2020-11-01","o":1.1643,"h":1.2005,"l":1.1605,"c":1.1920,"v":5830000,"ten":1.1322,"kij":1.1326,"ssa":1.1686,"ssb":1.2020,"lo":1.1686},
{"t":"2020-12-01","o":1.1920,"h":1.2305,"l":1.1908,"c":1.2210,"v":5450000,"ten":1.1514,"kij":1.1472,"ssa":1.1645,"ssb":1.1892,"lo":1.1645},
{"t":"2021-01-01","o":1.2236,"h":1.2351,"l":1.2049,"c":1.2128,"v":6200000,"ten":1.1559,"kij":1.1492,"ssa":1.1630,"ssb":1.1749,"lo":1.1630},
{"t":"2021-02-01","o":1.2128,"h":1.2246,"l":1.1946,"c":1.2067,"v":5640000,"ten":1.1730,"kij":1.1492,"ssa":1.1555,"ssb":1.1610,"lo":1.1555},
{"t":"2021-03-01","o":1.2067,"h":1.2113,"l":1.1703,"c":1.1728,"v":6200000,"ten":1.1768,"kij":1.1492,"ssa":1.1487,"ssb":1.1472,"lo":1.1472},
{"t":"2021-04-01","o":1.17299,"h":1.18148,"l":1.17127,"c":1.18034,"v":359730,"ten":1.1976,"kij":1.14927,"ssa":1.15101,"ssb":1.14549,"lo":1.14549},
{"t":"2021-05-01","ssa":1.1491,"ssb":1.1448,"lo":1.1448},
{"t":"2021-06-01","ssa":1.1510,"ssb":1.1448,"lo":1.1448},
{"t":"2021-07-01","ssa":1.1530,"ssb":1.1448,"lo":1.1448},
{"t":"2021-08-01","ssa":1.1555,"ssb":1.1448,"lo":1.1448},
{"t":"2021-09-01","ssa":1.1509,"ssb":1.1448,"lo":1.1448},
{"t":"2021-10-01","ssa":1.1465,"ssb":1.1448,"lo":1.1448},
{"t":"2021-11-01","ssa":1.1458,"ssb":1.1448,"lo":1.1448},
{"t":"2021-12-01","ssa":1.1442,"ssb":1.1448,"lo":1.1442},
{"t":"2022-01-01","ssa":1.1440,"ssb":1.1448,"lo":1.1440},
{"t":"2022-02-01","ssa":1.1433,"ssb":1.1448,"lo":1.1433},
{"t":"2022-03-01","ssa":1.1372,"ssb":1.1448,"lo":1.1372},
{"t":"2022-04-01","ssa":1.1331,"ssb":1.1448,"lo":1.1331},
{"t":"2022-05-01","ssa":1.1312,"ssb":1.1448,"lo":1.1312},
{"t":"2022-06-01","ssa":1.1295,"ssb":1.1448,"lo":1.1295},
{"t":"2022-07-01","ssa":1.1218,"ssb":1.1448,"lo":1.1218},
{"t":"2022-08-01","ssa":1.1278,"ssb":1.1448,"lo":1.1278},
{"t":"2022-09-01","ssa":1.1303,"ssb":1.1448,"lo":1.1303},
{"t":"2022-10-01","ssa":1.1324,"ssb":1.1448,"lo":1.1324},
{"t":"2022-11-01","ssa":1.1324,"ssb":1.1448,"lo":1.1324},
{"t":"2022-12-01","ssa":1.1324,"ssb":1.1448,"lo":1.1324},
{"t":"2023-01-01","ssa":1.1493,"ssb":1.1448,"lo":1.1448},
{"t":"2023-02-01","ssa":1.1526,"ssb":1.1448,"lo":1.1448},
{"t":"2023-03-01","ssa":1.1611,"ssb":1.1448,"lo":1.1448},
{"t":"2023-04-01","ssa":1.1630,"ssb":1.1448,"lo":1.1448},
{"t":"2023-05-01","ssa":1.1735,"ssb":1.1448,"lo":1.1448}
],
"years":[{"t":"2005-01-01"},{"t":"2006-01-01"},{"t":"2007-01-01"},{"t":"2008-01-01"},{"t":"2009-01-01"},{"t":"2010-01-01"},{"t":"2011-01-01"},{"t":"2012-01-01"},{"t":"2013-01-01"},{"t":"2014-01-01"},{"t":"2015-01-01"},{"t":"2016-01-01"},{"t":"2017-01-01"},{"t":"2018-01-01"},{"t":"2019-01-01"},{"t":"2020-01-01"},{"t":"2021-01-01"},{"t":"2022-01-01"},{"t":"2023-01-01"},{"t":"2024-01-01"}],
"gridP":[{"t":"2004-12-12","t2":"2024-11-23","p":0.90},{"t":"2004-12-12","t2":"2024-11-23","p":0.95},{"t":"2004-12-12","t2":"2024-11-23","p":1.00},{"t":"2004-12-12","t2":"2024-11-23","p":1.05},{"t":"2004-12-12","t2":"2024-11-23","p":1.10},{"t":"2004-12-12","t2":"2024-11-23","p":1.15},{"t":"2004-12-12","t2":"2024-11-23","p":1.20},{"t":"2004-12-12","t2":"2024-11-23","p":1.25},{"t":"2004-12-12","t2":"2024-11-23","p":1.30},{"t":"2004-12-12","t2":"2024-11-23","p":1.35},{"t":"2004-12-12","t2":"2024-11-23","p":1.40},{"t":"2004-12-12","t2":"2024-11-23","p":1.45},{"t":"2004-12-12","t2":"2024-11-23","p":1.50},{"t":"2004-12-12","t2":"2024-11-23","p":1.55},{"t":"2004-12-12","t2":"2024-11-23","p":1.60},{"t":"2004-12-12","t2":"2024-11-23","p":1.65}],
"texts":[
{"t":"2008-05-01","p":1.6700,"label":"O1.17299 H1.18148 B1.17127 C1.18034 +0.00735 (+0.63%)","role":"ohlc"},
{"t":"2005-02-06","p":1.6492,"label":"1.18034","role":"bid"},
{"t":"2005-09-03","p":1.6492,"label":"0.1","role":"title"},
{"t":"2005-12-15","p":1.6492,"label":"1.18035","role":"ask"},
{"t":"2005-01-11","p":1.6272,"label":"Ichimoku 9 26 52 26","role":"title"},
{"t":"2006-03-15","p":1.6272,"label":"1.19760","role":"tenkan"},
{"t":"2006-09-09","p":1.6272,"label":"1.14927","role":"kijun"},
{"t":"2007-03-08","p":1.6272,"label":"1.18034","role":"chikou"},
{"t":"2007-09-03","p":1.6272,"label":"1.15101","role":"ssa"},
{"t":"2008-02-25","p":1.6272,"label":"1.14549","role":"ssb"},
{"t":"2005-01-11","p":1.6087,"label":"Ichimoku Box Replis Kijun & Chandeliers 1 20 9 26 52 25","role":"muted"},
{"t":"2005-01-11","p":1.5902,"label":"Ichimoku Box Chandelier & Stochastique 14 3 5 80 20","role":"muted"},
{"t":"2005-01-12","p":0.8738,"label":"Vol","role":"title"},
{"t":"2005-04-10","p":0.8738,"label":"359.73K","role":"vol"},
{"t":"2024-12-29","p":1.21674,"label":"1.21674","role":"chikou"},
{"t":"2024-12-29","p":1.14481,"label":"1.14481","role":"chikou"},
{"t":"2024-12-29","p":1.18034,"label":"1.18034","role":"white"},
{"t":"2024-12-29","p":1.1700,"label":"25d 6h","role":"pale"},
{"t":"2025-01-27","p":1.6711,"label":"USD","role":"title"}
]},
"data":{"name":"rows"},
"encoding":{"x":{"field":"t","type":"temporal","title":null,"scale":{"type":"utc","domain":["2004-12-12","2024-11-23"],"range":[0,2117],"nice":false,"padding":0},"axis":{"orient":"bottom","offset":-25,"format":"%Y","tickCount":{"interval":"year","step":1},"grid":false,"domainColor":"#50535e","domainWidth":1.5,"tickColor":"#50535e","tickSize":4,"labelColor":"#50535e","labelFont":"Roboto","labelFontSize":12,"labelPadding":4,"labelOverlap":false,"labelFlush":false,"labelBound":false}}},
"layer":[
{"layer":[
{"data":{"name":"gridP","format":{"parse":{"t2":"date"}}},"mark":{"type":"rule","color":"#e8e8e8","strokeWidth":1.2},"encoding":{"x2":{"field":"t2"},"y":{"field":"p","type":"quantitative","title":null,"scale":{"domain":[0.8873,1.6831],"range":[1034.5,0],"zero":false,"nice":false},"axis":{"orient":"right","offset":-60,"values":[0.9,0.95,1,1.05,1.1,1.15,1.2,1.25,1.3,1.35,1.4,1.45,1.5,1.55,1.6,1.65],"format":".5f","grid":false,"domainColor":"#50535e","tickColor":"#50535e","tickSize":5,"labelColor":"#50535e","labelFont":"Roboto","labelFontSize":12,"labelPadding":5,"labelOverlap":false,"labelBound":false,"labelFlush":false}}}},
{"data":{"name":"years"},"mark":{"type":"rule","color":"#e8e8e8","strokeWidth":1.2},"encoding":{"y":{"datum":0.8873,"type":"quantitative","title":null,"scale":{"domain":[0.8873,1.6831],"range":[1034.5,0],"zero":false,"nice":false}},"y2":{"datum":1.6831}}},
{"data":{"values":[{"t":"2014-12-01","p":1.2946,"label":"EURUSD, 1M"}]},"mark":{"type":"text","font":"Roboto","fontSize":95,"align":"center","baseline":"alphabetic","color":"#d5d5d5"},"encoding":{"y":{"field":"p","type":"quantitative","title":null,"scale":{"domain":[0.8873,1.6831],"range":[1034.5,0],"zero":false,"nice":false}},"text":{"field":"label"}}},
{"data":{"values":[{"t":"2014-12-01","p":1.2303,"label":"Euro / Dollar Américain"}]},"mark":{"type":"text","font":"Roboto","fontSize":49.5,"align":"center","baseline":"alphabetic","color":"#d5d5d5"},"encoding":{"y":{"field":"p","type":"quantitative","title":null,"scale":{"domain":[0.8873,1.6831],"range":[1034.5,0],"zero":false,"nice":false}},"text":{"field":"label"}}},
{"mark":{"type":"area","color":"#4caf50","opacity":0.1},"encoding":{"y":{"field":"ssa","type":"quantitative","title":null,"scale":{"domain":[0.8873,1.6831],"range":[1034.5,0],"zero":false,"nice":false}},"y2":{"field":"lo"}}},
{"mark":{"type":"area","color":"#ff5252","opacity":0.1},"encoding":{"y":{"field":"ssb","type":"quantitative","title":null,"scale":{"domain":[0.8873,1.6831],"range":[1034.5,0],"zero":false,"nice":false}},"y2":{"field":"lo"}}},
{"mark":{"type":"line","color":"#66b366","strokeWidth":1.2},"encoding":{"y":{"field":"ssa","type":"quantitative","title":null,"scale":{"domain":[0.8873,1.6831],"range":[1034.5,0],"zero":false,"nice":false}}}},
{"mark":{"type":"line","color":"#ff6e6e","strokeWidth":1.2},"encoding":{"y":{"field":"ssb","type":"quantitative","title":null,"scale":{"domain":[0.8873,1.6831],"range":[1034.5,0],"zero":false,"nice":false}}}},
{"mark":{"type":"line","color":"#1a1a1a","strokeWidth":1.2},"encoding":{"y":{"field":"chi","type":"quantitative","title":null,"scale":{"domain":[0.8873,1.6831],"range":[1034.5,0],"zero":false,"nice":false}}}},
{"mark":{"type":"line","color":"#2a5db0","strokeWidth":1.2},"encoding":{"y":{"field":"kij","type":"quantitative","title":null,"scale":{"domain":[0.8873,1.6831],"range":[1034.5,0],"zero":false,"nice":false}}}},
{"mark":{"type":"line","color":"#cf3a3a","strokeWidth":1.2},"encoding":{"y":{"field":"ten","type":"quantitative","title":null,"scale":{"domain":[0.8873,1.6831],"range":[1034.5,0],"zero":false,"nice":false}}}},
{"mark":{"type":"rule","color":"#737375","strokeWidth":1},"encoding":{"y":{"field":"l","type":"quantitative","title":null,"scale":{"domain":[0.8873,1.6831],"range":[1034.5,0],"zero":false,"nice":false}},"y2":{"field":"h"}}},
{"transform":[{"filter":"isValid(datum.c) && datum.c>=datum.o"}],"mark":{"type":"bar","size":5.8,"color":"#6ba583","stroke":"#225437","strokeWidth":1},"encoding":{"y":{"field":"o","type":"quantitative","title":null,"scale":{"domain":[0.8873,1.6831],"range":[1034.5,0],"zero":false,"nice":false}},"y2":{"field":"c"}}},
{"transform":[{"filter":"isValid(datum.c) && datum.c<datum.o"}],"mark":{"type":"bar","size":5.8,"color":"#d75442","stroke":"#6b1713","strokeWidth":1},"encoding":{"y":{"field":"o","type":"quantitative","title":null,"scale":{"domain":[0.8873,1.6831],"range":[1034.5,0],"zero":false,"nice":false}},"y2":{"field":"c"}}},
{"data":{"values":[{"t":"2008-07-01","p":1.5768},{"t":"2024-11-23","p":1.0364}]},"mark":{"type":"line","color":"#26c6da","strokeWidth":1.3},"encoding":{"y":{"field":"p","type":"quantitative","title":null,"scale":{"domain":[0.8873,1.6831],"range":[1034.5,0],"zero":false,"nice":false}}}},
{"data":{"values":[{"t":"2004-12-12","t2":"2024-11-23","p":1.21674},{"t":"2004-12-12","t2":"2024-11-23","p":1.14481}],"format":{"parse":{"t2":"date"}}},"mark":{"type":"rule","color":"#00ffff","strokeWidth":2,"strokeDash":[11,11]},"encoding":{"x2":{"field":"t2"},"y":{"field":"p","type":"quantitative","title":null,"scale":{"domain":[0.8873,1.6831],"range":[1034.5,0],"zero":false,"nice":false}}}},
{"data":{"values":[{"t":"2004-12-12","t2":"2024-11-23","p":1.18034}],"format":{"parse":{"t2":"date"}}},"mark":{"type":"rule","color":"#5f8f75","strokeWidth":1,"strokeDash":[1,3]},"encoding":{"x2":{"field":"t2"},"y":{"field":"p","type":"quantitative","title":null,"scale":{"domain":[0.8873,1.6831],"range":[1034.5,0],"zero":false,"nice":false}}}},
{"data":{"values":[{"t":"2019-01-01","p":1.2213}]},"mark":{"type":"point","shape":"M-0.4158 -0.6813 A0.798 0.504 58.6 1 1 0.4158 0.6813 A0.798 0.504 58.6 1 1 -0.4158 -0.6813 Z","size":40000,"filled":true,"fill":"#ffff00","fillOpacity":0.22,"stroke":"#b0ae2a","strokeWidth":1.3,"strokeOpacity":1,"opacity":1},"encoding":{"y":{"field":"p","type":"quantitative","title":null,"scale":{"domain":[0.8873,1.6831],"range":[1034.5,0],"zero":false,"nice":false}}}},
{"data":{"values":[{"t":"2023-06-03","p":1.2192,"label":"Resistance SSB mensuelle"},{"t":"2023-05-14","p":1.1479,"label":"SSB mensuelle"}]},"mark":{"type":"text","font":"Roboto","fontSize":13.5,"align":"center","baseline":"middle","color":"#2196f3"},"encoding":{"y":{"field":"p","type":"quantitative","title":null,"scale":{"domain":[0.8873,1.6831],"range":[1034.5,0],"zero":false,"nice":false}},"text":{"field":"label"}}},
{"data":{"values":[{"t":"2024-11-23","t2":"2025-06-11","p":1.22315,"p2":1.21033},{"t":"2024-11-23","t2":"2025-06-11","p":1.15122,"p2":1.1384}],"format":{"parse":{"t2":"date"}}},"mark":{"type":"rect","color":"#00ffff"},"encoding":{"x2":{"field":"t2"},"y":{"field":"p","type":"quantitative","title":null,"scale":{"domain":[0.8873,1.6831],"range":[1034.5,0],"zero":false,"nice":false}},"y2":{"field":"p2"}}},
{"data":{"values":[{"t":"2024-11-23","t2":"2025-06-11","p":1.1869,"p2":1.1631}],"format":{"parse":{"t2":"date"}}},"mark":{"type":"rect","color":"#6ba583"},"encoding":{"x2":{"field":"t2"},"y":{"field":"p","type":"quantitative","title":null,"scale":{"domain":[0.8873,1.6831],"range":[1034.5,0],"zero":false,"nice":false}},"y2":{"field":"p2"}}},
{"data":{"values":[{"t":"2025-01-21","t2":"2025-05-01","p":1.6777,"p2":1.6646}],"format":{"parse":{"t2":"date"}}},"mark":{"type":"rect","fill":"#ffffff","stroke":"#d1d4dc","strokeWidth":1,"cornerRadius":2},"encoding":{"x2":{"field":"t2"},"y":{"field":"p","type":"quantitative","title":null,"scale":{"domain":[0.8873,1.6831],"range":[1034.5,0],"zero":false,"nice":false}},"y2":{"field":"p2"}}},
{"data":{"values":[{"t":"2005-01-11","t2":"2005-08-04","p":1.6585,"p2":1.6402}],"format":{"parse":{"t2":"date"}}},"mark":{"type":"rect","fill":"#ffffff","stroke":"#ff5252","strokeWidth":1,"cornerRadius":3},"encoding":{"x2":{"field":"t2"},"y":{"field":"p","type":"quantitative","title":null,"scale":{"domain":[0.8873,1.6831],"range":[1034.5,0],"zero":false,"nice":false}},"y2":{"field":"p2"}}},
{"data":{"values":[{"t":"2005-11-21","t2":"2006-06-16","p":1.6585,"p2":1.6402}],"format":{"parse":{"t2":"date"}}},"mark":{"type":"rect","fill":"#ffffff","stroke":"#2196f3","strokeWidth":1,"cornerRadius":3},"encoding":{"x2":{"field":"t2"},"y":{"field":"p","type":"quantitative","title":null,"scale":{"domain":[0.8873,1.6831],"range":[1034.5,0],"zero":false,"nice":false}},"y2":{"field":"p2"}}},
{"data":{"values":[{"t":"2005-01-12","t2":"2005-04-19","p":1.58,"p2":1.5646}],"format":{"parse":{"t2":"date"}}},"mark":{"type":"rect","fill":"#ffffff","stroke":"#d1d4dc","strokeWidth":1,"cornerRadius":3},"encoding":{"x2":{"field":"t2"},"y":{"field":"p","type":"quantitative","title":null,"scale":{"domain":[0.8873,1.6831],"range":[1034.5,0],"zero":false,"nice":false}},"y2":{"field":"p2"}}},
{"data":{"values":[{"t":"2005-03-01","p":1.5716,"label":"^"}]},"mark":{"type":"text","font":"Roboto","fontSize":14,"align":"center","baseline":"middle","color":"#131722"},"encoding":{"y":{"field":"p","type":"quantitative","title":null,"scale":{"domain":[0.8873,1.6831],"range":[1034.5,0],"zero":false,"nice":false}},"text":{"field":"label"}}},
{"data":{"values":[{"t":"2011-10-10","t2":"2013-02-12","p":1.6900,"p2":1.6587}],"format":{"parse":{"t2":"date"}}},"mark":{"type":"rect","color":"#1e222d","cornerRadius":4},"encoding":{"x2":{"field":"t2"},"y":{"field":"p","type":"quantitative","title":null,"scale":{"domain":[0.8873,1.6831],"range":[1034.5,0],"zero":false,"nice":false}},"y2":{"field":"p2"}}},
{"data":{"values":[{"t":"2011-11-25","p":1.6738}]},"mark":{"type":"point","shape":"M-0.15 -0.9L-0.15 -0.7 M0.15 -0.9L0.15 -0.7 M-0.15 -0.1L-0.15 0.1 M0.15 -0.1L0.15 0.1 M-0.15 0.7L-0.15 0.9 M0.15 0.7L0.15 0.9","size":400,"filled":false,"stroke":"#787b86","strokeWidth":1.5,"opacity":1},"encoding":{"y":{"field":"p","type":"quantitative","title":null,"scale":{"domain":[0.8873,1.6831],"range":[1034.5,0],"zero":false,"nice":false}}}},
{"data":{"values":[{"t":"2012-03-12","p":1.6738}]},"mark":{"type":"point","shape":"M-1 -0.7L1 -0.7 M-1 0L1 0 M-1 0.7L1 0.7","size":576,"filled":false,"stroke":"#b2b5be","strokeWidth":1.2,"opacity":1},"encoding":{"y":{"field":"p","type":"quantitative","title":null,"scale":{"domain":[0.8873,1.6831],"range":[1034.5,0],"zero":false,"nice":false}}}},
{"data":{"values":[{"t":"2012-07-24","p":1.6738}]},"mark":{"type":"point","shape":"M-0.8 -0.8L0.8 -0.8L0.8 0.8L-0.8 0.8Z","size":484,"filled":false,"stroke":"#b2b5be","strokeWidth":1.2,"opacity":1},"encoding":{"y":{"field":"p","type":"quantitative","title":null,"scale":{"domain":[0.8873,1.6831],"range":[1034.5,0],"zero":false,"nice":false}}}},
{"data":{"values":[{"t":"2012-12-08","p":1.6738}]},"mark":{"type":"point","shape":"circle","size":350,"filled":false,"stroke":"#b2b5be","strokeWidth":1.2,"opacity":1},"encoding":{"y":{"field":"p","type":"quantitative","title":null,"scale":{"domain":[0.8873,1.6831],"range":[1034.5,0],"zero":false,"nice":false}}}},
{"data":{"values":[{"t":"2007-10-19","t2":"2007-12-24","p":1.6779,"p2":1.6638}],"format":{"parse":{"t2":"date"}}},"mark":{"type":"rect","color":"#d9f0ec"},"encoding":{"x2":{"field":"t2"},"y":{"field":"p","type":"quantitative","title":null,"scale":{"domain":[0.8873,1.6831],"range":[1034.5,0],"zero":false,"nice":false}},"y2":{"field":"p2"}}},
{"data":{"values":[{"t":"2007-12-24","t2":"2008-03-02","p":1.6779,"p2":1.6638}],"format":{"parse":{"t2":"date"}}},"mark":{"type":"rect","color":"#fbd3de"},"encoding":{"x2":{"field":"t2"},"y":{"field":"p","type":"quantitative","title":null,"scale":{"domain":[0.8873,1.6831],"range":[1034.5,0],"zero":false,"nice":false}},"y2":{"field":"p2"}}},
{"data":{"values":[{"t":"2007-07-02","t2":"2007-08-12","p":1.6748,"p2":1.6664}],"format":{"parse":{"t2":"date"}}},"mark":{"type":"rect","color":"#ff5252"},"encoding":{"x2":{"field":"t2"},"y":{"field":"p","type":"quantitative","title":null,"scale":{"domain":[0.8873,1.6831],"range":[1034.5,0],"zero":false,"nice":false}},"y2":{"field":"p2"}}},
{"data":{"values":[{"t":"2007-11-24","p":1.6708}]},"mark":{"type":"point","shape":"circle","size":50,"filled":true,"color":"#089981","opacity":1},"encoding":{"y":{"field":"p","type":"quantitative","title":null,"scale":{"domain":[0.8873,1.6831],"range":[1034.5,0],"zero":false,"nice":false}}}},
{"data":{"values":[{"t":"2008-01-25","p":1.6708,"label":"≈"}]},"mark":{"type":"text","font":"DejaVu Sans","fontSize":13,"align":"center","baseline":"middle","color":"#e91e63"},"encoding":{"y":{"field":"p","type":"quantitative","title":null,"scale":{"domain":[0.8873,1.6831],"range":[1034.5,0],"zero":false,"nice":false}},"text":{"field":"label"}}},
{"data":{"values":[{"t":"2008-04-11","p":1.6092},{"t":"2008-02-11","p":1.5908}]},"mark":{"type":"point","shape":"M-1 0Q0 -0.8 1 0Q0 0.8 -1 0Z M-0.4 0A0.4 0.4 0 1 1 0.4 0A0.4 0.4 0 1 1 -0.4 0Z M-0.6 0.95L0.6 -0.95","size":196,"filled":false,"stroke":"#333333","strokeWidth":1,"opacity":1},"encoding":{"y":{"field":"p","type":"quantitative","title":null,"scale":{"domain":[0.8873,1.6831],"range":[1034.5,0],"zero":false,"nice":false}}}},
{"data":{"values":[{"t":"2005-03-05","p":0.82}]},"mark":{"type":"point","shape":"circle","size":800,"filled":true,"fill":"#ffffff","stroke":"#e0e3eb","strokeWidth":1,"opacity":1},"encoding":{"y":{"field":"p","type":"quantitative","title":null,"scale":{"domain":[0.8873,1.6831],"range":[1034.5,0],"zero":false,"nice":false}}}},
{"data":{"values":[{"t":"2005-03-05","p":0.82}]},"mark":{"type":"point","shape":"M-1 0.6L-0.5 -0.6L-0.15 0.1L0.3 -0.6L1 0.6Z","size":400,"filled":true,"color":"#2196f3","opacity":1},"encoding":{"y":{"field":"p","type":"quantitative","title":null,"scale":{"domain":[0.8873,1.6831],"range":[1034.5,0],"zero":false,"nice":false}}}},
{"data":{"values":[{"t":"2025-03-13","p":0.7915,"label":"⚙"}]},"mark":{"type":"text","font":"DejaVu Sans","fontSize":17,"align":"center","baseline":"middle","color":"#131722"},"encoding":{"y":{"field":"p","type":"quantitative","title":null,"scale":{"domain":[0.8873,1.6831],"range":[1034.5,0],"zero":false,"nice":false}},"text":{"field":"label"}}},
{"data":{"values":[{"t":"2005-01-11","p":1.6702,"label":"Euro / Dollar Américain · 1M · FXCM"}]},"mark":{"type":"text","font":"Roboto","fontSize":15.5,"align":"left","baseline":"middle","color":"#50535e"},"encoding":{"y":{"field":"p","type":"quantitative","title":null,"scale":{"domain":[0.8873,1.6831],"range":[1034.5,0],"zero":false,"nice":false}},"text":{"field":"label"}}},
{"data":{"name":"texts"},"mark":{"type":"text","font":"Roboto","fontSize":13,"align":"left","baseline":"middle"},"encoding":{"y":{"field":"p","type":"quantitative","title":null,"scale":{"domain":[0.8873,1.6831],"range":[1034.5,0],"zero":false,"nice":false}},"text":{"field":"label"},"color":{"field":"role","type":"nominal","legend":null,"scale":{"domain":["title","ohlc","bid","ask","tenkan","kijun","chikou","ssa","ssb","muted","vol","white","pale"],"range":["#50535e","#4d8f70","#ff5252","#2196f3","#c62828","#1e53a5","#131722","#43a047","#ff6e6e","#b2b5be","#26a69a","#ffffff","#dbe9e0"]}}}},
{"data":{"values":[{"t":"2004-12-12","t2":"2024-11-23","p":0.8873}],"format":{"parse":{"t2":"date"}}},"mark":{"type":"rule","color":"#50535e","strokeWidth":1.5},"encoding":{"x2":{"field":"t2"},"y":{"field":"p","type":"quantitative","title":null,"scale":{"domain":[0.8873,1.6831],"range":[1034.5,0],"zero":false,"nice":false}}}}
]},
{"layer":[
{"data":{"values":[{"t":"2004-12-12","t2":"2024-11-23","v":10000000},{"t":"2004-12-12","t2":"2024-11-23","v":20000000}],"format":{"parse":{"t2":"date"}}},"mark":{"type":"rule","color":"#e8e8e8","strokeWidth":1.2},"encoding":{"x2":{"field":"t2"},"y":{"field":"v","type":"quantitative","title":null,"scale":{"domain":[0,21150000],"range":[1145,1035],"nice":false},"axis":{"orient":"right","offset":-60,"values":[10000000,20000000],"format":"~s","grid":false,"domainColor":"#50535e","tickColor":"#50535e","tickSize":5,"labelColor":"#50535e","labelFont":"Roboto","labelFontSize":12,"labelPadding":5,"labelOverlap":false,"labelBound":false,"labelFlush":false}}}},
{"data":{"name":"years"},"mark":{"type":"rule","color":"#e8e8e8","strokeWidth":1.2},"encoding":{"y":{"datum":0,"type":"quantitative","title":null,"scale":{"domain":[0,21150000],"range":[1145,1035],"nice":false}},"y2":{"datum":21150000}}},
{"transform":[{"filter":"isValid(datum.c) && datum.c>=datum.o"}],"mark":{"type":"bar","size":7.8,"color":"#26a69a","opacity":0.5},"encoding":{"y":{"field":"v","type":"quantitative","title":null,"stack":null,"scale":{"domain":[0,21150000],"range":[1145,1035],"nice":false}}}},
{"transform":[{"filter":"isValid(datum.c) && datum.c<datum.o"}],"mark":{"type":"bar","size":7.8,"color":"#ef5350","opacity":0.5},"encoding":{"y":{"field":"v","type":"quantitative","title":null,"stack":null,"scale":{"domain":[0,21150000],"range":[1145,1035],"nice":false}}}},
{"data":{"values":[{"t":"2024-11-23","v":0,"v2":-4800000}]},"mark":{"type":"rule","color":"#50535e","strokeWidth":1},"encoding":{"y":{"field":"v","type":"quantitative","title":null,"scale":{"domain":[0,21150000],"range":[1145,1035],"nice":false}},"y2":{"field":"v2"}}}
]}
],
"resolve":{"scale":{"y":"independent"},"axis":{"y":"independent"}}
}
